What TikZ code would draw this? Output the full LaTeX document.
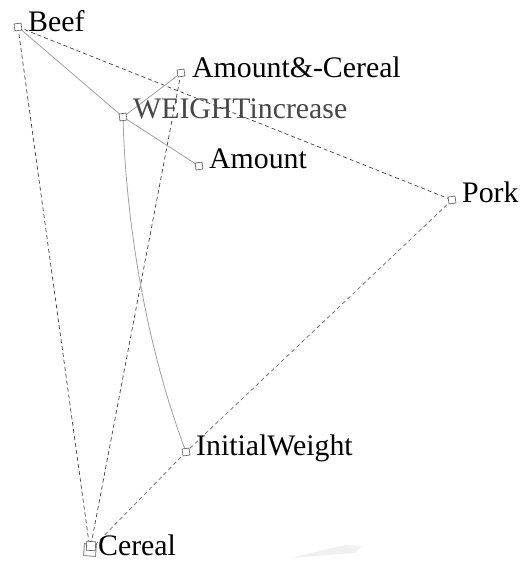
\documentclass[tikz,border=0pt]{standalone}
\usepackage{fontspec}
\setmainfont{Liberation Serif}
\begin{document}
\begin{tikzpicture}[x=1pt,y=-1pt,
  marker/.style={draw=black!60, line width=0.7pt, fill=white, minimum size=7pt, inner sep=0pt, rotate=8},
  bigmarker/.style={marker, minimum size=12pt, rotate=-12},
  lbl/.style={anchor=base west, inner sep=0pt, font=\fontsize{29.8}{31}\selectfont},
  solidedge/.style={draw=gray!75, line width=0.8pt},
  darkdash/.style={draw=black!75, dashed, dash pattern=on 4pt off 3pt, line width=0.7pt},
  lightdash/.style={draw=black!55, dashed, dash pattern=on 4pt off 3pt, line width=0.7pt}]
\useasboundingbox (0,0) rectangle (522,565);
% faint artifact
\fill[gray!12] (290,558) -- (345,545) -- (362,546) -- (355,553) -- cycle;
% coordinates of markers
\coordinate (beef) at (18,27);
\coordinate (amc) at (181,73);
\coordinate (wi) at (123,117);
\coordinate (amt) at (199,166);
\coordinate (pork) at (452,200);
\coordinate (iw) at (186,452);
\coordinate (cer) at (90,550);
% edges
\draw[darkdash] (beef) -- (cer);
\draw[darkdash] (beef) -- (pork);
\draw[darkdash] (amc) -- (cer);
\draw[lightdash] (pork) -- (iw);
\draw[lightdash] (iw) -- (cer);
\draw[solidedge] (beef) -- (wi);
\draw[solidedge] (wi) -- (amc);
\draw[solidedge] (wi) -- (amt);
\draw[solidedge] (wi) .. controls (125,200) and (140,330) .. (iw);
% markers
\node[marker] (mbeef) at (beef) {};
\node[marker] (mamc) at (amc) {};
\node[marker] (mwi) at (wi) {};
\node[marker] (mamt) at (amt) {};
\node[marker] (mpork) at (pork) {};
\node[marker] (miw) at (iw) {};
\node[bigmarker] (mcer) at (cer) {};
\node[marker, minimum size=9pt, rotate=-12] (mcer2) at (91,546) {};
% labels
\node[lbl] (tbeef) at (28,31) {Beef};
\node[lbl] (tamc) at (192,77) {Amount\&-Cereal};
\node[lbl, text=black!72] (twi) at (133,118) {WEIGHTincrease};
\node[lbl] (tamt) at (209,168) {Amount};
\node[lbl] (tpork) at (462,202) {Pork};
\node[lbl] (tiw) at (196,455) {InitialWeight};
\node[lbl] (tcer) at (98,555) {Cereal};
\end{tikzpicture}
\end{document}
